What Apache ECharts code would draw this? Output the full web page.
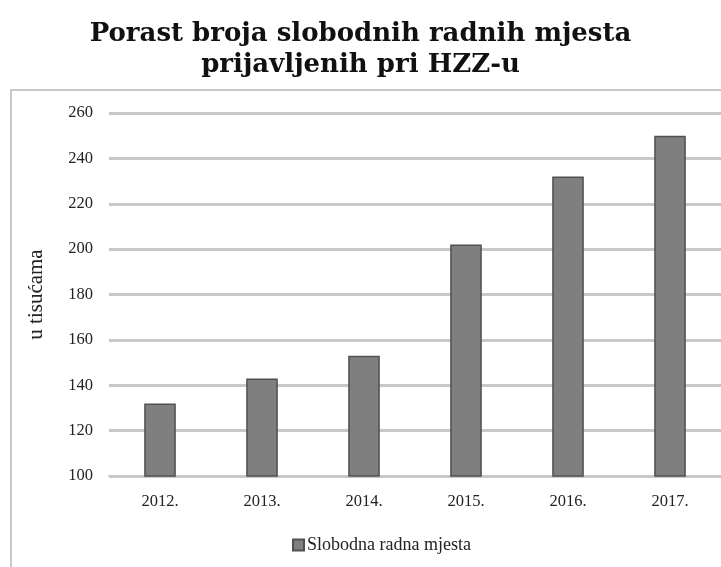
<!DOCTYPE html>
<html>
<head>
<meta charset="utf-8">
<script src="https://cdn.jsdelivr.net/npm/echarts@6/dist/echarts.min.js"></script>
<style>
  html, body { margin: 0; padding: 0; background: #fff; }
  #main { width: 721px; height: 567px; }
</style>
</head>
<body>
<div id="main"></div>
<script>
var years = ['2012.', '2013.', '2014.', '2015.', '2016.', '2017.']
var vacancies = [132, 143, 153, 202, 232, 250]
var seriesName = 'Slobodna radna mjesta'

var chart = echarts.init(document.getElementById('main'))
chart.setOption({
    backgroundColor: '#fff',
    animation: false,
    title: {
        text: 'Porast broja slobodnih radnih mjesta\nprijavljenih pri HZZ-u',
        left: 'center',
        top: 14,
        textStyle: {
            fontFamily: 'DejaVu Serif',
            fontWeight: 'bold',
            fontSize: 26,
            lineHeight: 31,
            color: '#111'
        }
    },
    graphic: [{
        type: 'rect',
        shape: { x: 11, y: 90, width: 720, height: 500 },
        style: { fill: 'none', stroke: '#c8c8c8', lineWidth: 2 },
        silent: true
    }],
    legend: {
        bottom: 8,
        left: 287,
        itemWidth: 11,
        itemHeight: 11,
        icon: 'rect',
        itemGap: 4,
        textStyle: { fontFamily: 'Liberation Serif', fontSize: 18, color: '#222', padding: [0, 0, 0, -2] },
        data: [seriesName]
    },
    grid: { left: 109, right: 0, top: 113, bottom: 91 },
    xAxis: {
        type: 'category',
        data: years,
        axisTick: { show: false },
        axisLine: { lineStyle: { color: '#c8c8c8', width: 2 } },
        axisLabel: { fontFamily: 'Liberation Serif', fontSize: 16.5, color: '#222', margin: 17 }
    },
    yAxis: {
        type: 'value',
        min: 100,
        max: 260,
        interval: 20,
        name: 'u tisućama',
        nameLocation: 'middle',
        nameGap: 62,
        nameTextStyle: { fontFamily: 'Liberation Serif', fontSize: 21, color: '#222' },
        axisLine: { show: false },
        axisTick: { show: false },
        splitLine: { lineStyle: { color: '#c8c8c8', width: 3 } },
        axisLabel: { fontFamily: 'Liberation Serif', fontSize: 16.5, color: '#222', margin: 16 }
    },
    series: [{
        name: seriesName,
        type: 'bar',
        data: vacancies,
        barWidth: '31%',
        itemStyle: { color: '#7f7f7f', borderColor: '#505050', borderWidth: 1.5 }
    }]
})
</script>
</body>
</html>
